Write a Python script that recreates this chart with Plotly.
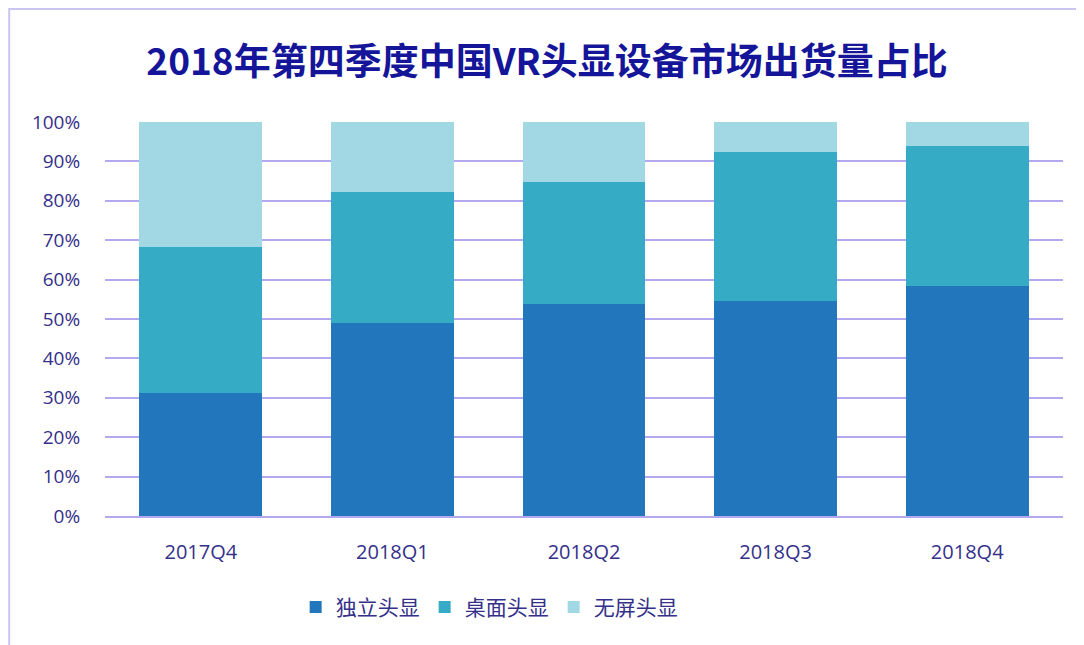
import plotly.graph_objects as go

categories = ["2017Q4", "2018Q1", "2018Q2", "2018Q3", "2018Q4"]
standalone = [31.3, 48.9, 53.9, 54.6, 58.5]   # 独立头显
desktop = [36.9, 33.3, 30.9, 37.7, 35.5]      # 桌面头显
screenless = [31.8, 17.8, 15.2, 7.7, 6.0]     # 无屏头显
series_names = ["独立头显", "桌面头显", "无屏头显"]
colors = ["#2277BC", "#36ABC6", "#A1D8E4"]
ytick_vals = [0, 10, 20, 30, 40, 50, 60, 70, 80, 90, 100]
ytick_text = [f"{v}%" for v in ytick_vals]

fig = go.Figure()
for name, vals, c in zip(series_names, [standalone, desktop, screenless], colors):
    fig.add_trace(go.Bar(x=categories, y=vals, name=name, marker=dict(color=c, line=dict(width=0)),
                         hoverinfo="x+y+name"))

cjk = "Noto Sans CJK SC, Noto Sans, sans-serif"
latin = "Open Sans, Noto Sans CJK SC, sans-serif"
fig.update_layout(
    barmode="stack",
    bargap=0.36,
    width=1076, height=637,
    margin=dict(l=97, r=21, t=114, b=129),
    paper_bgcolor="white", plot_bgcolor="white",
    title=dict(text="<b>2018年第四季度中国VR头显设备市场出货量占比</b>",
               x=0.501, xanchor="center", y=0.915, yanchor="middle",
               font=dict(family=cjk, size=37, color="#15159A")),
    font=dict(family=latin, color="#35308A"),
    legend=dict(orientation="h", x=0.401, xanchor="center", y=-0.232, yanchor="middle",
                font=dict(family=cjk, size=21, color="#35308A"), traceorder="normal",
                itemwidth=30, bgcolor="rgba(0,0,0,0)"),
    showlegend=True,
)
fig.update_yaxes(range=[0, 100], tickvals=ytick_vals, ticktext=ytick_text,
                 showgrid=True, gridcolor="#B3A9EE", gridwidth=2,
                 zeroline=False, showline=False,
                 tickfont=dict(family=latin, size=19, color="#35308A"),
                 ticks="outside", ticklen=20, tickcolor="rgba(0,0,0,0)")
fig.update_xaxes(showline=True, linecolor="#B3A9EE", linewidth=2,
                 tickfont=dict(family=latin, size=20, color="#35308A"),
                 ticks="outside", ticklen=17, tickcolor="rgba(0,0,0,0)")

fig.add_shape(type="rect", xref="paper", yref="paper",
              x0=-0.1, y0=-0.36, x1=1.05, y1=1.287,
              line=dict(color="#C9C6F2", width=2), fillcolor="rgba(0,0,0,0)", layer="below")

fig.write_html("out.html")
